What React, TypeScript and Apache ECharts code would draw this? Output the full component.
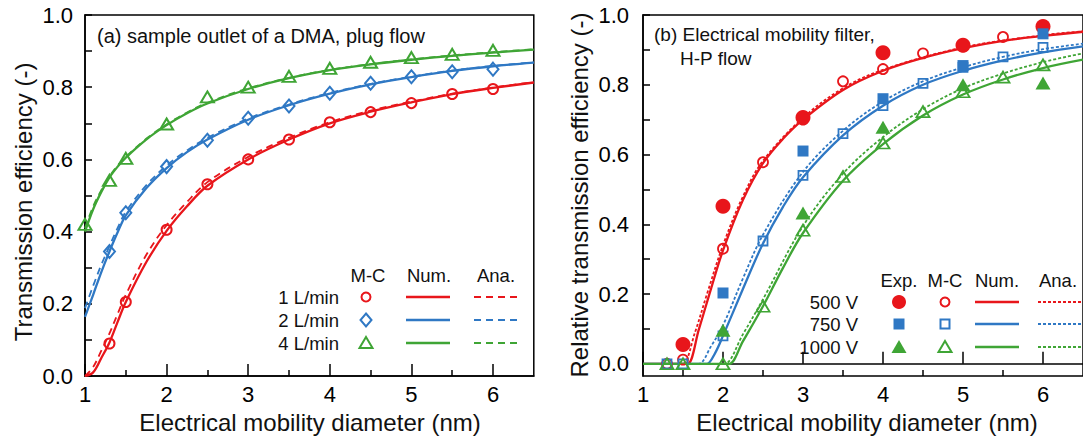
import React, { useEffect, useRef } from "react";
import * as echarts from "echarts";

const RED = "#e8161b";
const BLUE = "#2f78c4";
const GREEN = "#3fa535";
const FONT = '"Liberation Sans", Arial, Helvetica, sans-serif';

// ---------- Panel (a): sample outlet of a DMA, plug flow ----------
const mcX = [1.3, 1.5, 2, 2.5, 3, 3.5, 4, 4.5, 5, 5.5, 6];
const mc1L = [0.09, 0.205, 0.405, 0.531, 0.6, 0.655, 0.703, 0.731, 0.756, 0.781, 0.795];
const mc2L = [0.345, 0.452, 0.58, 0.653, 0.714, 0.748, 0.783, 0.811, 0.829, 0.843, 0.85];
const mc4X = [1, 1.3, 1.5, 2, 2.5, 3, 3.5, 4, 4.5, 5, 5.5, 6];
const mc4L = [0.42, 0.542, 0.603, 0.698, 0.773, 0.8, 0.83, 0.852, 0.869, 0.882, 0.891, 0.902];

const curveAX = [1, 1.1, 1.2, 1.3, 1.4, 1.5, 1.75, 2, 2.25, 2.5, 3, 3.5, 4, 4.5, 5, 5.5, 6, 6.5];
const num1L = [0, 0.01, 0.05, 0.093, 0.15, 0.205, 0.315, 0.402, 0.47, 0.527, 0.6, 0.655, 0.7, 0.732, 0.758, 0.781, 0.798, 0.813];
const ana1L = [0, 0.025, 0.07, 0.118, 0.172, 0.225, 0.335, 0.418, 0.482, 0.537, 0.607, 0.66, 0.703, 0.735, 0.76, 0.782, 0.799, 0.814];
const num2L = [0.164, 0.225, 0.288, 0.345, 0.398, 0.445, 0.52, 0.576, 0.62, 0.655, 0.71, 0.75, 0.782, 0.808, 0.828, 0.845, 0.858, 0.868];
const ana2L = [0.188, 0.25, 0.308, 0.36, 0.41, 0.455, 0.528, 0.583, 0.625, 0.66, 0.713, 0.752, 0.784, 0.809, 0.829, 0.846, 0.859, 0.869];
const num4L = [0.4, 0.462, 0.51, 0.55, 0.58, 0.605, 0.655, 0.695, 0.728, 0.755, 0.795, 0.825, 0.847, 0.863, 0.876, 0.887, 0.896, 0.904];
const ana4L = [0.41, 0.47, 0.515, 0.553, 0.583, 0.607, 0.657, 0.697, 0.73, 0.757, 0.797, 0.826, 0.848, 0.864, 0.877, 0.888, 0.897, 0.905];

// ---------- Panel (b): electrical mobility filter, H-P flow ----------
const exp500X = [1.5, 2, 3, 4, 5, 6];
const exp500 = [0.055, 0.452, 0.706, 0.892, 0.913, 0.967];
const expX = [2, 3, 4, 5, 6];
const exp750 = [0.203, 0.61, 0.76, 0.855, 0.946];
const exp1000 = [0.096, 0.432, 0.678, 0.8, 0.805];

const mcbX = [1.3, 1.5, 2, 2.5, 3, 3.5, 4, 4.5, 5, 5.5, 6];
const mc500 = [0, 0.012, 0.33, 0.578, 0.7, 0.81, 0.845, 0.89, 0.91, 0.937, 0.962];
const mc750 = [0, 0, 0.08, 0.352, 0.54, 0.66, 0.74, 0.804, 0.85, 0.88, 0.907];
const mc1000 = [0, 0, 0, 0.165, 0.383, 0.537, 0.633, 0.723, 0.78, 0.822, 0.857];

const num500X = [1, 1.5, 1.56, 1.7, 1.85, 2, 2.25, 2.5, 2.75, 3, 3.5, 4, 4.5, 5, 5.5, 6, 6.5];
const num500 = [0, 0, 0, 0.1, 0.215, 0.325, 0.47, 0.575, 0.645, 0.7, 0.785, 0.84, 0.877, 0.905, 0.926, 0.94, 0.952];
const ana500X = [1, 1.45, 1.5, 1.65, 1.8, 2, 2.25, 2.5, 3, 3.5, 4, 5, 6, 6.5];
const ana500 = [0, 0, 0, 0.09, 0.2, 0.34, 0.48, 0.582, 0.705, 0.79, 0.843, 0.907, 0.942, 0.953];
const num750X = [1, 1.75, 1.8, 1.9, 2, 2.25, 2.5, 2.75, 3, 3.5, 4, 4.5, 5, 5.5, 6, 6.5];
const num750 = [0, 0, 0, 0.03, 0.08, 0.215, 0.345, 0.45, 0.535, 0.655, 0.74, 0.8, 0.84, 0.87, 0.893, 0.91];
const ana750X = [1, 1.65, 1.7, 1.85, 2, 2.25, 2.5, 3, 3.5, 4, 4.5, 5, 5.5, 6, 6.5];
const ana750 = [0, 0, 0, 0.05, 0.11, 0.245, 0.37, 0.55, 0.668, 0.752, 0.81, 0.85, 0.88, 0.902, 0.918];
const num1000X = [1, 2.03, 2.08, 2.25, 2.5, 2.75, 3, 3.5, 4, 4.5, 5, 5.5, 6, 6.5];
const num1000 = [0, 0, 0, 0.065, 0.165, 0.275, 0.375, 0.525, 0.63, 0.712, 0.772, 0.815, 0.848, 0.872];
const ana1000X = [1, 1.97, 2.02, 2.25, 2.5, 3, 3.5, 4, 4.5, 5, 5.5, 6, 6.5];
const ana1000 = [0, 0, 0, 0.085, 0.185, 0.395, 0.545, 0.65, 0.73, 0.79, 0.832, 0.865, 0.89];

// ---------- axis ticks ----------
const xMajor = [1, 2, 3, 4, 5, 6];
const xMinor = [1.5, 2.5, 3.5, 4.5, 5.5];
const yTicks = [0, 0.1, 0.2, 0.3, 0.4, 0.5, 0.6, 0.7, 0.8, 0.9, 1.0];
const yLabels = [0, 0.2, 0.4, 0.6, 0.8, 1.0];

const zip = (xs: number[], ys: number[]) => xs.map((x, i) => [x, ys[i]]);

function xAxes(gridIndex: number) {
  return [
    {
      type: "value", gridIndex, min: 1, max: 6.5, position: "bottom",
      axisLine: { lineStyle: { color: "#000", width: 1.5 } },
      axisTick: { inside: true, length: 12, customValues: xMajor, lineStyle: { color: "#000", width: 1.5 } },
      axisLabel: { customValues: xMajor, fontSize: 22, margin: 7, color: "#000", fontFamily: FONT },
      splitLine: { show: false },
    },
    {
      type: "value", gridIndex, min: 1, max: 6.5, position: "bottom",
      axisLine: { show: false },
      axisTick: { inside: true, length: 6, customValues: xMinor, lineStyle: { color: "#000", width: 1.5 } },
      axisLabel: { show: false },
      splitLine: { show: false },
    },
  ];
}

function yAxis(gridIndex: number, min: number, margin: number) {
  return {
    type: "value", gridIndex, min, max: 1,
    axisLine: { show: true, lineStyle: { color: "#000", width: 1.5 } },
    axisTick: { show: true, inside: true, length: 7, customValues: yTicks, lineStyle: { color: "#000", width: 1.5 } },
    axisLabel: {
      customValues: yLabels, fontSize: 22, margin, color: "#000", fontFamily: FONT,
      formatter: (v: number) => v.toFixed(1),
    },
    splitLine: { show: false },
  };
}

function line(data: number[][], color: string, xi: number, yi: number, dash?: number[], width = 2.3) {
  return {
    type: "line", xAxisIndex: xi, yAxisIndex: yi, data, showSymbol: false, symbol: "none",
    smooth: 0.35,
    lineStyle: { color, width, type: dash ? dash : "solid" },
    silent: true, z: 2,
  };
}

function scatter(data: number[][], color: string, symbol: string, size: any, xi: number, yi: number, filled: boolean, bw = 2, z = 3) {
  return {
    type: "scatter", xAxisIndex: xi, yAxisIndex: yi, data, symbol, symbolSize: size,
    itemStyle: filled
      ? { color, opacity: 1 }
      : { color: "rgba(255,255,255,0)", borderColor: color, borderWidth: bw, opacity: 1 },
    silent: true, z,
  };
}

function txt(text: string, x: number, y: number, size: number, align = "left", rotation = 0) {
  return {
    type: "text", x, y, rotation,
    style: {
      text, fill: "#111", font: `${size}px ${FONT}`,
      align, verticalAlign: "middle", textAlign: align, textVerticalAlign: "middle",
    },
  };
}

function hline(x1: number, x2: number, y: number, color: string, dash?: number[]) {
  return {
    type: "line", shape: { x1, y1: y, x2, y2: y },
    style: { stroke: color, lineWidth: dash ? 1.8 : 2.5, lineDash: dash || null },
  };
}

const triPts = (cx: number, cy: number, w: number, h: number) => [
  [cx, cy - h / 2], [cx + w / 2, cy + h / 2], [cx - w / 2, cy + h / 2],
];

const graphics: any[] = [
  // axis titles
  txt("Transmission efficiency (-)", 23, 202, 24, "center", Math.PI / 2),
  txt("Relative transmission efficiency (-)", 579, 195, 24, "center", Math.PI / 2),
  txt("Electrical mobility diameter (nm)", 310, 422, 24, "center"),
  txt("Electrical mobility diameter (nm)", 867, 422, 24, "center"),
  // annotations
  txt("(a) sample outlet of a DMA, plug flow", 97, 36, 20),
  txt("(b) Electrical mobility filter,", 654, 34, 19),
  txt("H-P flow", 680, 58, 19),
  // legend (a)
  txt("M-C", 368, 275, 18.5, "center"),
  txt("Num.", 429, 275, 18.5, "center"),
  txt("Ana.", 496, 275, 18.5, "center"),
  txt("1 L/min", 339, 297, 18.5, "right"),
  txt("2 L/min", 339, 320, 18.5, "right"),
  txt("4 L/min", 339, 343, 18.5, "right"),
  { type: "circle", shape: { cx: 366, cy: 297, r: 4.5 }, style: { fill: "none", stroke: RED, lineWidth: 2 } },
  { type: "polygon", shape: { points: [[366, 313.5], [371.5, 320], [366, 326.5], [360.5, 320]] }, style: { fill: "none", stroke: BLUE, lineWidth: 2 } },
  { type: "polygon", shape: { points: triPts(366, 342.5, 13, 11) }, style: { fill: "none", stroke: GREEN, lineWidth: 2 } },
  hline(406, 450, 297, RED), hline(406, 450, 320, BLUE), hline(406, 450, 343, GREEN),
  hline(474, 518, 297, RED, [7, 5]), hline(474, 518, 320, BLUE, [7, 5]), hline(474, 518, 343, GREEN, [7, 5]),
  // legend (b)
  txt("Exp.", 899, 280, 18.5, "center"),
  txt("M-C", 945, 280, 18.5, "center"),
  txt("Num.", 997, 280, 18.5, "center"),
  txt("Ana.", 1058, 280, 18.5, "center"),
  txt("500 V", 858, 302, 18.5, "right"),
  txt("750 V", 858, 324, 18.5, "right"),
  txt("1000 V", 858, 347, 18.5, "right"),
  { type: "circle", shape: { cx: 899, cy: 302, r: 7 }, style: { fill: RED } },
  { type: "rect", shape: { x: 893.5, y: 318.5, width: 11, height: 11 }, style: { fill: BLUE } },
  { type: "polygon", shape: { points: triPts(899, 346.5, 15, 13) }, style: { fill: GREEN } },
  { type: "circle", shape: { cx: 945, cy: 302, r: 4.5 }, style: { fill: "none", stroke: RED, lineWidth: 2 } },
  { type: "rect", shape: { x: 940.5, y: 319.5, width: 9, height: 9 }, style: { fill: "none", stroke: BLUE, lineWidth: 2 } },
  { type: "polygon", shape: { points: triPts(945, 346.5, 13, 11) }, style: { fill: "none", stroke: GREEN, lineWidth: 2 } },
  hline(975, 1019, 302, RED), hline(975, 1019, 324, BLUE), hline(975, 1019, 347, GREEN),
  hline(1038, 1085, 302, RED, [3, 2]), hline(1038, 1085, 324, BLUE, [3, 2]), hline(1038, 1085, 347, GREEN, [3, 2]),
];

const option: any = {
  animation: false,
  backgroundColor: "#fff",
  textStyle: { fontFamily: FONT },
  grid: [
    { left: 85, top: 15, width: 448.8, height: 361, show: true, borderColor: "#000", borderWidth: 1.5, backgroundColor: "transparent" },
    { left: 643, top: 15, width: 447.2, height: 361, show: true, borderColor: "#000", borderWidth: 1.5, backgroundColor: "transparent" },
  ],
  xAxis: [...xAxes(0), ...xAxes(1)],
  yAxis: [yAxis(0, 0, 12), yAxis(1, -0.035, 14)],
  graphic: graphics,
  series: [
    // panel (a)
    line(zip(curveAX, ana1L), RED, 0, 0, [7, 5], 1.8),
    line(zip(curveAX, ana2L), BLUE, 0, 0, [7, 5], 1.8),
    line(zip(curveAX, ana4L), GREEN, 0, 0, [7, 5], 1.8),
    line(zip(curveAX, num1L), RED, 0, 0),
    line(zip(curveAX, num2L), BLUE, 0, 0),
    line(zip(curveAX, num4L), GREEN, 0, 0),
    scatter(zip(mcX, mc1L), RED, "circle", 10, 0, 0, false),
    scatter(zip(mcX, mc2L), BLUE, "diamond", [11, 13], 0, 0, false),
    scatter(zip(mc4X, mc4L), GREEN, "triangle", [13, 11], 0, 0, false),
    // panel (b)
    line(zip(ana500X, ana500), RED, 2, 1, [3, 2], 1.8),
    line(zip(ana750X, ana750), BLUE, 2, 1, [3, 2], 1.8),
    line(zip(ana1000X, ana1000), GREEN, 2, 1, [3, 2], 1.8),
    line(zip(num500X, num500), RED, 2, 1),
    line(zip(num750X, num750), BLUE, 2, 1),
    line(zip(num1000X, num1000), GREEN, 2, 1),
    scatter(zip(mcbX, mc500), RED, "circle", 10, 2, 1, false, 1.8, 3),
    scatter(zip(mcbX, mc750), BLUE, "rect", 9, 2, 1, false, 1.8, 3),
    scatter(zip(mcbX, mc1000), GREEN, "triangle", [13, 11], 2, 1, false, 1.8, 3),
    scatter(zip(exp500X, exp500), RED, "circle", 15, 2, 1, true, 0, 4),
    scatter(zip(expX, exp750), BLUE, "rect", 11, 2, 1, true, 0, 4),
    scatter(zip(expX, exp1000), GREEN, "triangle", [15, 13], 2, 1, true, 0, 4),
  ],
};

export default function App() {
  const ref = useRef<HTMLDivElement>(null);
  useEffect(() => {
    const chart = echarts.init(ref.current!, null, { renderer: "svg" });
    chart.setOption(option);
    return () => chart.dispose();
  }, []);
  return (
    <div
      ref={ref}
      style={{ position: "absolute", left: 0, top: 0, width: 1083, height: 441, background: "#fff" }}
    />
  );
}
